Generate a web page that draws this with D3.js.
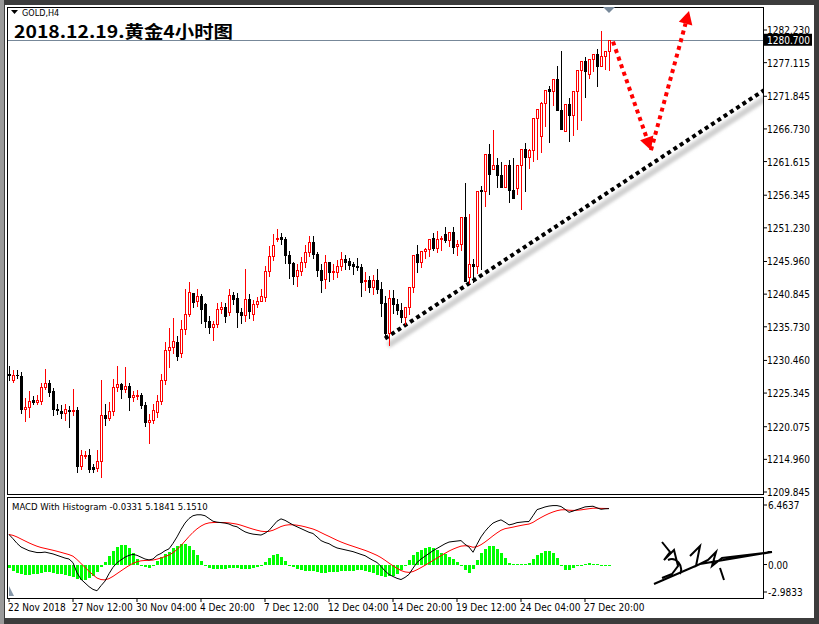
<!DOCTYPE html>
<html><head><meta charset="utf-8">
<script src="https://cdn.jsdelivr.net/npm/d3@7"></script>
<style>body{margin:0;background:#fff;}svg{display:block;}text{font-family:"DejaVu Sans Condensed","DejaVu Sans",Tahoma,sans-serif;}</style>
</head><body><svg id="c" width="819" height="624"></svg>
<script>
const opens=[1228.4,1227.36,1228.2,1228.09,1222.92,1223.23,1224.2,1224.0,1224.11,1226.33,1226.95,1225.71,1222.9,1222.6,1222.3,1222.7,1222.6,1222.66,1213.93,1215.5,1215.58,1213.8,1213.62,1214.76,1221.89,1221.37,1222.51,1226.23,1226.69,1225.92,1226.43,1224.78,1224.9,1224.99,1223.44,1220.85,1221.16,1222.4,1224.11,1227.36,1232.12,1232.63,1233.41,1231.7,1235.37,1237.7,1241.0,1239.76,1240.48,1239.24,1236.66,1235.63,1236.15,1238.57,1238.83,1238.06,1240.64,1240.28,1238.06,1237.54,1240.12,1237.8,1239.24,1239.76,1240.38,1244.41,1246.84,1249.6,1249.78,1249.42,1246.99,1245.65,1243.74,1244.51,1245.81,1247.51,1249.06,1247.1,1244.62,1243.22,1245.81,1244.41,1244.26,1245.29,1246.32,1246.06,1245.55,1245.29,1245.13,1242.86,1243.07,1241.93,1243.07,1241.67,1239.45,1234.8,1240.28,1239.24,1238.32,1237.28,1238.83,1242.03,1247.1,1245.81,1247.62,1247.88,1249.68,1248.13,1249.43,1250.3,1249.27,1250.61,1248.39,1248.75,1252.89,1243.49,1245.55,1245.29,1257.18,1257.02,1262.86,1260.43,1261.05,1259.5,1257.69,1261.05,1257.18,1257.54,1261.15,1263.63,1262.34,1263.37,1268.39,1265.7,1270.86,1272.93,1272.67,1274.48,1269.73,1266.47,1270.61,1268.9,1272.67,1275.93,1277.32,1275.26,1277.68,1278.51,1276.55,1278.1,1278.87];
const closes=[1228.1,1228.24,1228.1,1222.92,1223.23,1224.11,1224.0,1224.2,1226.33,1226.95,1225.56,1222.92,1222.7,1222.3,1222.82,1222.6,1222.7,1213.93,1215.58,1215.6,1213.42,1213.4,1214.76,1221.89,1221.37,1222.51,1226.23,1226.69,1225.92,1226.43,1224.78,1224.99,1225.0,1223.44,1220.85,1221.16,1222.71,1224.11,1227.36,1232.12,1232.63,1233.51,1231.08,1235.37,1237.7,1241.16,1239.61,1240.48,1238.57,1236.66,1235.63,1236.15,1238.57,1238.83,1237.39,1240.64,1240.12,1238.06,1237.54,1240.12,1238.16,1239.24,1239.76,1240.54,1244.41,1246.84,1248.54,1249.68,1249.42,1246.99,1245.65,1243.74,1244.62,1245.81,1247.51,1249.06,1247.1,1244.62,1243.07,1245.81,1244.26,1244.51,1245.29,1246.32,1245.81,1245.44,1245.29,1245.13,1242.71,1243.07,1242.03,1243.07,1241.67,1239.45,1234.8,1240.28,1239.24,1238.32,1237.28,1238.83,1242.03,1246.99,1245.81,1247.62,1247.88,1249.43,1248.03,1249.43,1249.68,1249.27,1250.61,1248.24,1248.75,1252.89,1242.97,1245.55,1245.29,1257.07,1257.02,1262.86,1259.6,1261.15,1259.5,1257.69,1261.05,1257.18,1255.88,1261.15,1263.63,1262.34,1263.37,1268.39,1269.83,1270.86,1272.83,1272.67,1274.48,1269.73,1266.73,1270.61,1268.9,1272.67,1275.93,1277.32,1275.77,1277.68,1278.51,1276.55,1278.1,1278.87,1280.7];
const highs=[1229.6,1228.9,1229.0,1228.6,1224.6,1225.6,1224.9,1225.0,1227.0,1229.1,1227.4,1226.1,1223.6,1223.4,1223.6,1223.3,1226.0,1223.2,1216.4,1216.2,1216.6,1214.2,1216.4,1227.4,1223.6,1224.0,1227.6,1229.6,1227.0,1229.5,1227.0,1225.6,1225.8,1225.4,1223.9,1222.0,1223.6,1225.0,1228.3,1233.4,1235.5,1237.1,1234.3,1236.8,1241.6,1242.8,1241.0,1241.6,1240.8,1239.5,1237.4,1236.6,1239.4,1239.6,1239.4,1241.6,1241.2,1241.0,1238.6,1244.8,1240.9,1240.0,1240.4,1241.6,1245.2,1248.4,1250.3,1251.1,1250.4,1249.8,1247.6,1245.9,1245.6,1246.6,1248.6,1249.9,1249.9,1247.5,1245.5,1246.9,1245.8,1245.6,1246.2,1247.4,1247.0,1246.5,1245.9,1246.5,1245.6,1244.3,1243.7,1243.9,1244.8,1242.8,1240.6,1241.5,1241.5,1240.1,1239.4,1238.6,1239.9,1242.9,1248.6,1247.6,1248.0,1248.7,1250.4,1250.8,1249.9,1251.3,1250.2,1251.3,1249.4,1249.9,1258.2,1253.4,1246.4,1246.4,1257.8,1258.3,1264.4,1266.5,1262.1,1261.6,1258.6,1261.9,1262.1,1258.4,1262.4,1264.6,1263.6,1264.6,1269.3,1270.9,1272.5,1273.4,1273.6,1276.6,1278.9,1268.5,1271.6,1270.2,1273.3,1276.6,1278.0,1277.6,1278.2,1279.2,1282.0,1278.8,1279.6,1280.9];
const lows=[1227.2,1226.9,1227.6,1222.0,1220.8,1221.4,1223.4,1223.4,1223.5,1225.8,1224.8,1221.8,1221.9,1221.3,1221.0,1219.8,1221.7,1212.8,1213.3,1215.0,1212.8,1212.9,1213.0,1212.0,1220.2,1220.9,1221.7,1225.5,1224.4,1225.3,1222.6,1223.9,1224.3,1222.8,1220.1,1217.4,1220.5,1221.5,1223.4,1226.6,1229.2,1231.4,1230.3,1230.8,1234.4,1237.3,1238.7,1238.8,1236.2,1235.6,1234.6,1233.5,1235.6,1237.8,1236.3,1237.4,1239.2,1235.5,1236.2,1236.5,1236.9,1236.7,1238.6,1239.6,1239.6,1243.6,1246.0,1249.0,1248.6,1245.6,1243.2,1242.3,1242.0,1243.7,1245.0,1246.6,1246.3,1243.6,1241.0,1241.7,1242.8,1243.1,1243.3,1244.4,1244.6,1244.6,1243.8,1244.4,1240.4,1241.4,1241.0,1240.7,1240.8,1237.2,1233.9,1232.7,1237.8,1237.6,1236.4,1236.0,1237.6,1241.0,1244.2,1245.0,1246.4,1246.6,1247.6,1247.3,1247.6,1248.8,1248.3,1247.2,1246.8,1247.6,1248.3,1242.4,1242.6,1244.0,1244.6,1254.5,1256.4,1261.0,1257.5,1259.6,1258.8,1255.2,1256.8,1256.4,1254.1,1256.8,1260.5,1261.6,1261.8,1262.9,1267.1,1264.6,1270.3,1271.5,1268.6,1269.0,1264.7,1265.6,1266.6,1267.9,1271.6,1274.6,1275.7,1273.3,1276.8,1275.9,1275.8,1277.4,1278.0];
const macdLine=[3.26,2.8,2.3,1.9,1.7,1.5,1.4,1.3,1.3,1.35,1.25,1.15,1.0,0.85,0.7,0.6,0.2,-0.9,-1.6,-2.0,-2.4,-2.7,-2.85,-2.3,-1.8,-1.0,-0.3,0.2,0.5,0.8,1.0,1.1,1.0,0.8,0.6,0.5,0.6,1.0,1.2,1.5,1.7,2.3,3.0,3.8,4.5,5.0,5.3,5.4,5.4,5.3,5.0,4.7,4.6,4.55,4.5,4.4,4.2,4.1,3.8,3.55,3.4,3.3,3.25,3.2,3.4,3.7,4.2,4.7,4.96,4.8,4.55,4.3,4.1,3.9,3.7,3.5,3.37,3.0,2.6,2.4,2.26,2.0,1.8,1.7,1.6,1.5,1.4,1.25,1.1,0.96,0.7,0.45,0.22,-0.2,-0.7,-1.07,-1.3,-1.5,-1.63,-1.4,-1.07,-0.4,0.22,0.6,0.9,1.2,1.5,1.75,2.0,2.25,2.44,2.5,2.55,2.6,2.2,1.9,1.33,2.2,3.0,3.6,4.1,4.5,4.7,4.85,4.6,4.3,4.4,4.55,4.6,4.65,4.67,5.3,5.96,6.1,6.25,6.35,6.4,6.4,6.3,6.0,5.67,5.8,5.96,6.1,6.26,6.3,6.33,6.15,6.0,6.05,6.07];
const histo=[-0.4,-0.7,-0.9,-1.0,-1.1,-1.1,-1.0,-1.0,-0.9,-0.8,-0.8,-0.9,-1.0,-1.0,-1.1,-1.2,-1.4,-1.6,-1.7,-1.7,-1.5,-1.2,-0.8,-0.3,0.3,0.9,1.5,1.9,2.1,2.1,1.8,1.3,0.6,0.0,-0.3,-0.4,-0.2,0.4,0.8,1.1,1.4,1.8,2.0,2.2,2.2,2.0,1.6,1.0,0.4,-0.2,-0.4,-0.5,-0.5,-0.5,-0.5,-0.4,-0.4,-0.4,-0.5,-0.5,-0.5,-0.4,-0.3,-0.1,0.3,0.7,1.0,1.1,0.8,0.4,0.0,-0.3,-0.5,-0.6,-0.7,-0.7,-0.7,-0.8,-0.9,-0.9,-0.8,-0.8,-0.8,-0.7,-0.7,-0.7,-0.7,-0.6,-0.6,-0.7,-0.8,-0.9,-1.1,-1.3,-1.4,-1.3,-1.2,-1.0,-0.6,-0.1,0.5,1.0,1.4,1.6,1.8,1.9,1.8,1.6,1.3,1.1,0.8,0.6,0.3,-0.2,-0.6,-0.9,-0.5,0.5,1.2,1.7,2.0,2.0,1.7,1.2,0.7,0.2,0.1,0.1,0.1,0.1,0.2,0.6,1.0,1.3,1.5,1.5,1.3,0.7,-0.2,-0.6,-0.6,-0.4,-0.2,0.0,0.1,0.2,0.1,0.1,0.0,0.0,0.0];
const priceTicks=[1282.230,1277.115,1271.845,1266.730,1261.615,1256.345,1251.230,1245.960,1240.845,1235.730,1230.460,1225.345,1220.075,1214.960,1209.845];
const dateLabels=["22 Nov 2018","27 Nov 12:00","30 Nov 04:00","4 Dec 20:00","7 Dec 12:00","12 Dec 04:00","14 Dec 20:00","19 Dec 12:00","24 Dec 04:00","27 Dec 20:00"];
const dateBars=[0,16,32,48,64,80,96,112,128,144];
const lastPrice=1280.700;
const trendBars=[94,189], trendPrices=[1233.9,1272.9];
const arrowBars=[151,160.5,170], arrowPrices=[1280.4,1263.4,1285.2];

const signal=[];macdLine.forEach((v,i)=>signal.push(i?signal[i-1]+0.2*(v-signal[i-1]):v));

const svg=d3.select("#c");
svg.append("rect").attr("width",819).attr("height",624).attr("fill","#3c3c3c");
svg.append("rect").attr("x",5).attr("y",5).attr("width",809).attr("height",613).attr("fill","#fff");
svg.append("rect").attr("x",0).attr("y",0).attr("width",4).attr("height",624).attr("fill","#9a9a9a");
const L=7,R=763,T=7,B=494,MT=497,MB=598;
const x=d3.scaleLinear().domain([0,150]).range([9,609]);
const y=d3.scaleLinear().domain([1209.845,1282.230]).range([492,30]);
const ym=d3.scaleLinear().domain([-2.9833,6.4637]).range([592,505]);

const defs=svg.append("defs");
defs.append("clipPath").attr("id","cm").append("rect").attr("x",L).attr("y",T).attr("width",R-L).attr("height",B-T);
defs.append("clipPath").attr("id","cd").append("rect").attr("x",L).attr("y",MT).attr("width",R-L).attr("height",MB-MT);
defs.append("filter").attr("id","bl").append("feGaussianBlur").attr("stdDeviation",1.8);

const gm=svg.append("g").attr("clip-path","url(#cm)");
gm.append("line").attr("x1",L).attr("x2",R).attr("y1",Math.round(y(lastPrice))+0.5).attr("y2",Math.round(y(lastPrice))+0.5).attr("stroke","#778899").attr("stroke-width",1);
const tl=d3.line().x(d=>x(d[0])).y(d=>y(d[1]));
const tdat=trendBars.map((b,i)=>[b,trendPrices[i]]);
gm.append("path").attr("d",tl(tdat)).attr("transform","translate(3,7)").attr("stroke","#d0d0d0").attr("stroke-width",6).attr("filter","url(#bl)").attr("fill","none");
gm.append("path").attr("d",tl(tdat)).attr("stroke","#000").attr("stroke-width",4).attr("stroke-dasharray","4,3.5").attr("fill","none");
const cg=gm.append("g").attr("shape-rendering","crispEdges");
closes.forEach((c,i)=>{
  const o=opens[i],up=c>=o,col=up?"#ff0000":"#000";
  const r=Math.round(x(i)),cx=r+0.5;
  const yt=Math.round(y(Math.max(o,c))),yb=Math.round(y(Math.min(o,c)));
  cg.append("line").attr("x1",cx).attr("x2",cx).attr("y1",Math.round(y(highs[i]))).attr("y2",yt).attr("stroke",col);
  cg.append("line").attr("x1",cx).attr("x2",cx).attr("y1",yb).attr("y2",Math.round(y(lows[i]))).attr("stroke",col);
  if(up) cg.append("rect").attr("x",r-0.5).attr("y",yt+0.5).attr("width",2).attr("height",Math.max(1,yb-yt)).attr("fill","#fff").attr("stroke",col);
  else cg.append("rect").attr("x",r-1).attr("y",yt).attr("width",3).attr("height",Math.max(1,yb-yt+1)).attr("fill",col);
});
function arrow(a,b){
  const x1=x(arrowBars[a]),y1=y(arrowPrices[a]),x2=x(arrowBars[b]),y2=y(arrowPrices[b]);
  const ang=Math.atan2(y2-y1,x2-x1),len=13;
  const bx=x2-len*Math.cos(ang),by=y2-len*Math.sin(ang);
  gm.append("line").attr("x1",x1).attr("y1",y1).attr("x2",bx).attr("y2",by).attr("stroke","#ff0000").attr("stroke-width",4).attr("stroke-dasharray","4,4");
  const px=-Math.sin(ang)*7,py=Math.cos(ang)*7;
  gm.append("path").attr("d",`M${x2},${y2}L${bx+px},${by+py}L${bx-px},${by-py}Z`).attr("fill","#ff0000");
}
arrow(0,1);arrow(1,2);

svg.append("rect").attr("x",L+0.5).attr("y",T+0.5).attr("width",R-L).attr("height",B-T).attr("fill","none").attr("stroke","#000");
svg.append("rect").attr("x",L+0.5).attr("y",MT+0.5).attr("width",R-L).attr("height",MB-MT).attr("fill","none").attr("stroke","#000");
svg.append("path").attr("d","M603,7L615,7L609,13Z").attr("fill","#778899");

const pa=svg.append("g");
priceTicks.forEach(p=>{
  pa.append("line").attr("x1",R).attr("x2",R+4).attr("y1",y(p)).attr("y2",y(p)).attr("stroke","#000");
  pa.append("text").attr("x",R+4).attr("y",y(p)+4).attr("font-size",10).attr("fill","#000").text(p.toFixed(3));
});
pa.append("rect").attr("x",R+1).attr("y",y(lastPrice)-6).attr("width",48).attr("height",12).attr("fill","#000");
pa.append("text").attr("x",R+4).attr("y",y(lastPrice)+4).attr("font-size",10).attr("fill","#fff").text(lastPrice.toFixed(3));

svg.append("path").attr("d","M11,10L18,10L14.5,14Z").attr("fill","#000");
svg.append("text").attr("x",22).attr("y",16).attr("font-size",9).attr("fill","#000").text("GOLD,H4");
svg.append("text").attr("x",14).attr("y",38).attr("font-size",17).attr("font-weight","bold").attr("fill","#000")
  .attr("textLength",219).attr("lengthAdjust","spacingAndGlyphs").style("font-family","'Noto Sans CJK SC',sans-serif").text("2018.12.19.黄金4小时图");

const gd=svg.append("g").attr("clip-path","url(#cd)");
const hg=gd.append("g").attr("shape-rendering","crispEdges");
histo.forEach((h,i)=>{
  const r=Math.round(x(i));
  hg.append("rect").attr("x",r-1).attr("width",3).attr("y",Math.min(ym(h),ym(0))).attr("height",Math.max(1,Math.abs(ym(h)-ym(0)))).attr("fill","#00ff00");
});
const ml=d3.line().x((d,i)=>x(i)).y(d=>ym(d));
gd.append("path").attr("d",ml(signal)).attr("stroke","#ff0000").attr("fill","none");
gd.append("path").attr("d",ml(macdLine)).attr("stroke","#000").attr("fill","none");
svg.append("text").attr("x",12).attr("y",510).attr("font-size",9.5).attr("fill","#000").text("MACD With Histogram -0.0331 5.1841 5.1510");
[6.4637,0,-2.9833].forEach(v=>{
  svg.append("line").attr("x1",R).attr("x2",R+4).attr("y1",ym(v)).attr("y2",ym(v)).attr("stroke","#000");
  svg.append("text").attr("x",R+5).attr("y",ym(v)+4).attr("font-size",10).attr("fill","#000").text(v===0?"0.00":v.toFixed(4));
});
svg.append("path").attr("d","M9,586L9,596L14,596Z").attr("fill","#8899aa");
svg.append("path").attr("d","M662,542L670,552L664,560L674,550L678,566L672,574L662,578M668,560C676,556 684,566 680,574M690,556L700,546L696,566L708,560L716,552L712,566L722,558L772,552L700,564L654,584M720,568L724,580")
  .attr("stroke","#000").attr("stroke-width",2).attr("fill","none");

dateBars.forEach((b,i)=>{
  const xx=Math.round(x(b));
  svg.append("line").attr("x1",xx).attr("x2",xx).attr("y1",MB).attr("y2",MB+4).attr("stroke","#000");
  svg.append("text").attr("x",xx-1).attr("y",611).attr("font-size",10).attr("fill","#000").text(dateLabels[i]);
});
</script></body></html>
